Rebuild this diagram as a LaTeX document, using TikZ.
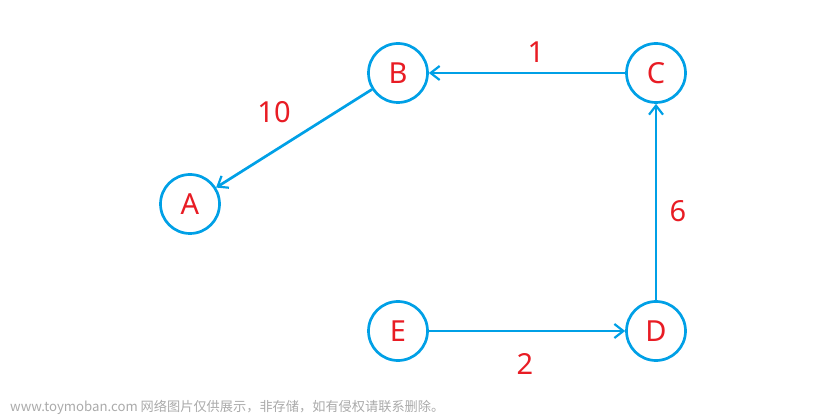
\documentclass[tikz,border=0pt]{standalone}
\usepackage{fontspec}
\setmainfont{Noto Sans}
\newfontfamily\cjk{Noto Sans CJK SC}
\usetikzlibrary{arrows.meta}
\definecolor{gblue}{RGB}{0,160,230}
\definecolor{gred}{RGB}{232,28,36}
\definecolor{wm}{RGB}{170,170,170}
\begin{document}
\begin{tikzpicture}[x=1pt,y=1pt,
  vert/.style={circle,draw=gblue,line width=2.7pt,minimum size=59pt,inner sep=0pt,text=gred,font=\fontsize{29}{31}\selectfont},
  edge/.style={draw=gblue,line width=2.7pt,-{Straight Barb[length=9pt,width=14pt,line width=2.2pt]}},
  wlab/.style={text=gred,font=\fontsize{29}{31}\selectfont}]
\useasboundingbox (0,0) rectangle (837,415);
\node[vert] (B) at (398,342) {B};
\node[vert] (C) at (656,342) {C};
\node[vert] (A) at (190,211) {A};
\node[vert] (E) at (398,84) {E};
\node[vert] (D) at (656,84) {D};
\draw[edge] (C) -- (B);
\draw[edge] (B) -- (A);
\draw[edge] (D) -- (C);
\draw[edge] (E) -- (D);
\node[wlab] (l1) at (536,363) {1};
\node[wlab] (l10) at (274,303) {10};
\node[wlab] (l6) at (678,204) {6};
\node[wlab] (l2) at (525,51) {2};
\node[anchor=west,text=wm,font=\cjk\fontsize{13.2}{15}\selectfont,inner sep=0pt] (wmk) at (10,8) {www.toymoban.com 网络图片仅供展示，非存储，如有侵权请联系删除。};
\end{tikzpicture}
\end{document}
